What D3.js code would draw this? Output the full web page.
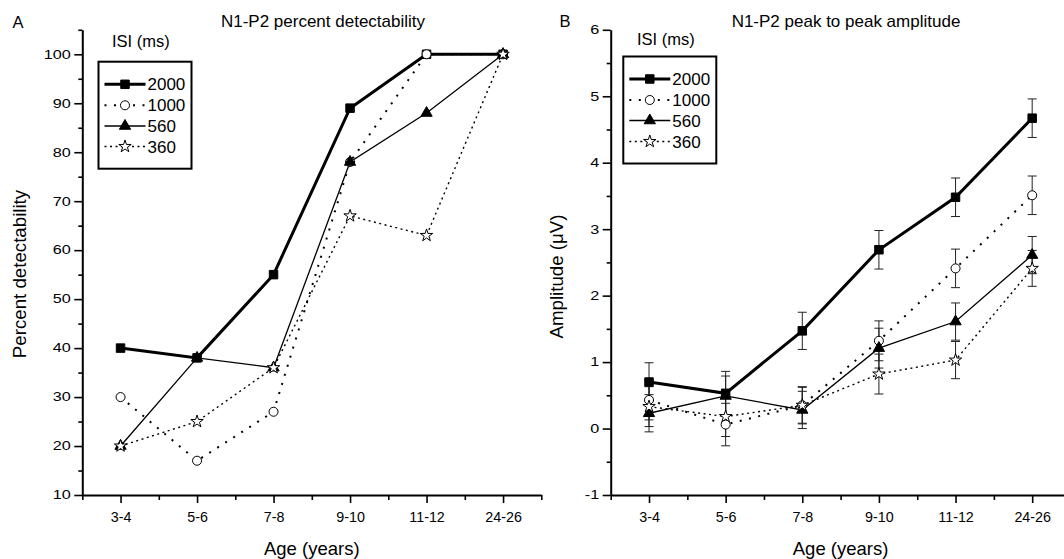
<!DOCTYPE html>
<html>
<head>
<meta charset="utf-8">
<script src="https://cdn.jsdelivr.net/npm/d3@7/dist/d3.min.js"></script>
<style>
  body { margin: 0; background: #fff; }
  svg { display: block; }
  text { font-family: "Liberation Sans", Arial, sans-serif; fill: #000; }
</style>
</head>
<body>
<div id="fig"></div>
<script>
// categories and series
const ages = ["3-4", "5-6", "7-8", "9-10", "11-12", "24-26"];
const isi = ["2000", "1000", "560", "360"];

// panel A: percent detectability
const detect2000 = [40, 38, 55, 89, 100, 100];
const detect1000 = [30, 17, 27, 78, 100, 100];
const detect560 = [20, 38, 36, 78, 88, 100];
const detect360 = [20, 25, 36, 67, 63, 100];

// panel B: amplitude (uV) and error bars
const amp2000 = [0.70, 0.53, 1.47, 2.69, 3.48, 4.67];
const amp1000 = [0.43, 0.06, 0.35, 1.32, 2.41, 3.51];
const amp560 = [0.23, 0.49, 0.28, 1.21, 1.61, 2.61];
const amp360 = [0.33, 0.18, 0.35, 0.82, 1.03, 2.41];
const err2000 = [0.29, 0.33, 0.28, 0.29, 0.29, 0.29];
const err1000 = [0.30, 0.32, 0.28, 0.30, 0.29, 0.29];
const err560 = [0.28, 0.30, 0.28, 0.30, 0.28, 0.28];
const err360 = [0.30, 0.30, 0.27, 0.30, 0.28, 0.27];

const W = 1064, H = 559;

const styles = {
    "2000": {width: 3, dash: null, sym: d3.symbolSquare, size: 72, fill: "#000"},
    "1000": {width: 2, dash: "2,7.5", sym: d3.symbolCircle, size: 64, fill: "#fff"},
    "560": {width: 1.3, dash: null, sym: d3.symbolTriangle, size: 55, fill: "#000"},
    "360": {width: 1.4, dash: "2,3.5", sym: d3.symbolStar, size: 48, fill: "#fff"}
};

const svg = d3.select("#fig").append("svg")
    .attr("width", W).attr("height", H);

function drawPanel(opt) {
    const x = d3.scaleLinear().domain([0.5, 6.5]).range(opt.xRange);
    const y = d3.scaleLinear().domain(opt.yDomain).range([495, 29.8]);
    const g = svg.append("g");

    // x axis: minor then major ticks
    g.append("g").attr("transform", "translate(0,495)")
        .call(d3.axisBottom(x).tickValues(d3.range(0.5, 7, 1)).tickSize(5).tickSizeOuter(0).tickFormat(""))
        .call(a => a.select(".domain").attr("stroke-width", 2))
        .call(a => a.selectAll(".tick line").attr("stroke-width", 1.6));
    g.append("g").attr("transform", "translate(0,495)")
        .call(d3.axisBottom(x).tickValues(d3.range(1, 7)).tickSize(8).tickSizeOuter(0)
            .tickFormat(i => ages[i - 1]).tickPadding(9))
        .call(a => a.select(".domain").remove())
        .call(a => a.selectAll(".tick line").attr("stroke-width", 1.6))
        .call(a => a.selectAll("text").attr("font-size", 14.3).style("font-family", "Liberation Sans, Arial"));

    // y axis
    g.append("g").attr("transform", "translate(" + opt.xRange[0] + ",0)")
        .call(d3.axisLeft(y).tickValues(opt.yMinor).tickSize(4).tickSizeOuter(0).tickFormat(""))
        .call(a => a.select(".domain").attr("stroke-width", 2))
        .call(a => a.selectAll(".tick line").attr("stroke-width", 1.6));
    g.append("g").attr("transform", "translate(" + opt.xRange[0] + ",0)")
        .call(d3.axisLeft(y).tickValues(opt.yMajor).tickSize(8).tickSizeOuter(0).tickFormat(d => String(d)))
        .call(a => a.select(".domain").remove())
        .call(a => a.selectAll(".tick line").attr("stroke-width", 1.6))
        .call(a => a.selectAll("text")
            .attr("font-size", 12)
            .style("font-family", "Liberation Sans, Arial")
            .attr("x", -11.5 / 1.35)
            .attr("transform", "scale(1.35,1)"));

    // lines
    const line = d3.line().x((d, i) => x(i + 1)).y(d => y(d));
    opt.series.forEach(s => {
        const st = styles[s.name];
        g.append("path")
            .attr("d", line(s.values))
            .attr("fill", "none")
            .attr("stroke", "#000")
            .attr("stroke-width", st.width)
            .attr("stroke-dasharray", st.dash);
    });

    // error bars
    opt.series.forEach(s => {
        if (!s.err) return;
        s.values.forEach((v, i) => {
            const cx = x(i + 1), y0 = y(v - s.err[i]), y1 = y(v + s.err[i]);
            g.append("line").attr("x1", cx).attr("x2", cx).attr("y1", y0).attr("y2", y1)
                .attr("stroke", "#222").attr("stroke-width", 1);
            [y0, y1].forEach(yy => g.append("line")
                .attr("x1", cx - 4.5).attr("x2", cx + 4.5).attr("y1", yy).attr("y2", yy)
                .attr("stroke", "#222").attr("stroke-width", 1));
        });
    });

    // markers
    opt.series.forEach(s => {
        const st = styles[s.name];
        g.selectAll(null).data(s.values).enter().append("path")
            .attr("transform", (d, i) => "translate(" + x(i + 1) + "," + y(d) + ")")
            .attr("d", d3.symbol().type(st.sym).size(st.size))
            .attr("fill", st.fill)
            .attr("stroke", "#000")
            .attr("stroke-width", 1);
    });

    // legend
    const L = opt.legend;
    g.append("text").attr("x", L.titleX).attr("y", L.titleY)
        .attr("font-size", 16.5).text("ISI (ms)");
    g.append("rect").attr("x", L.x).attr("y", L.y).attr("width", 93).attr("height", 107)
        .attr("fill", "none").attr("stroke", "#000").attr("stroke-width", 2);
    isi.forEach((name, k) => {
        const st = styles[name];
        const ly = L.rows[k];
        g.append("line").attr("x1", L.x + 6).attr("x2", L.x + 47).attr("y1", ly).attr("y2", ly)
            .attr("stroke", "#000").attr("stroke-width", st.width)
            .attr("stroke-dasharray", st.dash);
        g.append("path")
            .attr("transform", "translate(" + (L.x + 26.5) + "," + ly + ")")
            .attr("d", d3.symbol().type(st.sym).size(st.size))
            .attr("fill", st.fill).attr("stroke", "#000").attr("stroke-width", 1);
        g.append("text").attr("x", L.x + 49).attr("y", ly + 6)
            .attr("font-size", 17).text(name);
    });

    // titles
    g.append("text").attr("x", opt.titleX).attr("y", 27).attr("text-anchor", "middle")
        .attr("font-size", 17).text(opt.title);
    g.append("text").attr("x", opt.letterX).attr("y", opt.letterY)
        .attr("font-size", 16.5).text(opt.letter);
    g.append("text")
        .attr("transform", "translate(" + opt.yTitleX + "," + opt.yTitleY + ") rotate(-90)")
        .attr("text-anchor", "middle").attr("font-size", 18.7).text(opt.yTitle);
    g.append("text").attr("x", (opt.xRange[0] + opt.xRange[1]) / 2).attr("y", 555)
        .attr("text-anchor", "middle").attr("font-size", 18.5).text("Age (years)");
}

drawPanel({
    xRange: [82.3, 541.3],
    yDomain: [10, 105],
    yMajor: d3.range(10, 101, 10),
    yMinor: d3.range(15, 106, 10),
    series: [
        {name: "2000", values: detect2000},
        {name: "1000", values: detect1000},
        {name: "560", values: detect560},
        {name: "360", values: detect360}
    ],
    legend: {x: 98.5, y: 61.7, titleX: 112, titleY: 46.5, rows: [84.3, 105.3, 126, 146.5]},
    title: "N1-P2 percent detectability", titleX: 323,
    letter: "A", letterX: 12.5, letterY: 28,
    yTitle: "Percent detectability", yTitleX: 26, yTitleY: 274
});

drawPanel({
    xRange: [610.7, 1070.5],
    yDomain: [-1, 6],
    yMajor: d3.range(-1, 7, 1),
    yMinor: d3.range(-0.5, 6, 1),
    series: [
        {name: "2000", values: amp2000, err: err2000},
        {name: "1000", values: amp1000, err: err1000},
        {name: "560", values: amp560, err: err560},
        {name: "360", values: amp360, err: err360}
    ],
    legend: {x: 623.3, y: 56.5, titleX: 637, titleY: 45, rows: [79, 100, 120.5, 141.5]},
    title: "N1-P2 peak to peak amplitude", titleX: 846,
    letter: "B", letterX: 559.5, letterY: 26.5,
    yTitle: "Amplitude (\u03bcV)", yTitleX: 563, yTitleY: 276.5
});
</script>
</body>
</html>
